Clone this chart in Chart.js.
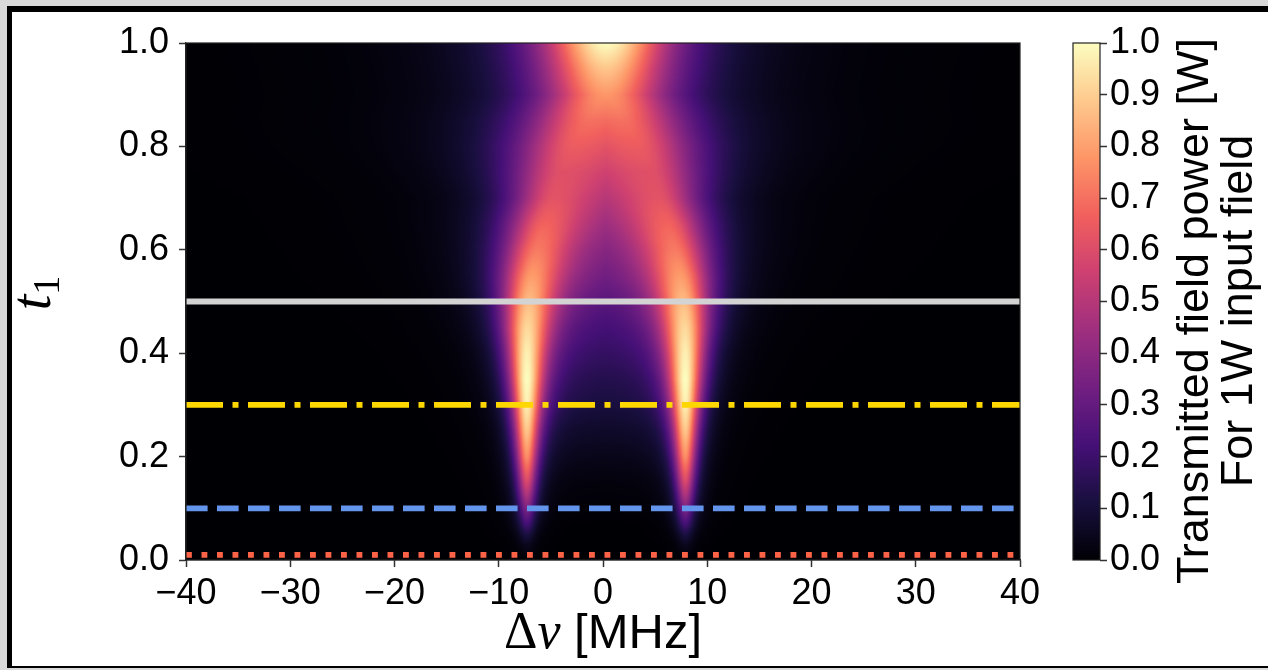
<!DOCTYPE html>
<html>
<head>
<meta charset="utf-8">
<script src="https://cdn.jsdelivr.net/npm/chart.js@4.4.1/dist/chart.umd.min.js"></script>
<style>
  html, body { margin: 0; padding: 0; width: 1268px; height: 670px; overflow: hidden; background: #d9d9d9; }
  #frame { position: absolute; left: 7px; top: 6px; width: 1300px; height: 654px; background: #fff;
           border-left: 5px solid #000; border-top: 6px solid #000; border-bottom: 2px solid #000; }
  #main { position: absolute; left: 0; top: 0; }
  #cbar { position: absolute; left: 1040px; top: 0; }
</style>
</head>
<body>
<div id="frame"></div>
<canvas id="main" width="1060" height="670"></canvas>
<canvas id="cbar" width="228" height="670"></canvas>
<script>
/* values */
const nuRange = [-40, 40];          // MHz
const t1Range = [0, 1];
const lineCentre = 0.3;             // MHz, axis of the pattern

// one entry per t1 row
const t1Rows      = [0.00, 0.03, 0.05, 0.07, 0.10, 0.15, 0.20, 0.25, 0.30, 0.35, 0.40, 0.45, 0.50, 0.55, 0.60, 0.65, 0.70, 0.75, 0.80, 0.85, 0.90, 0.95, 1.00];
const peakSplit   = [7.6, 7.6, 7.6, 7.6, 7.6, 7.6, 7.6, 7.6, 7.6, 7.6, 7.6, 7.55, 7.4, 7.1, 6.6, 5.9, 5.0, 4.2, 3.0, 1.5, 0, 0, 0];
const peakHeight  = [0.0, 0.05, 0.12, 0.22, 0.36, 0.58, 0.76, 0.88, 0.97, 1.0, 0.97, 0.92, 0.86, 0.79, 0.72, 0.67, 0.62, 0.61, 0.65, 0.70, 0.78, 0.88, 1.0];
const peakWidth   = [1.1, 1.1, 1.15, 1.2, 1.25, 1.35, 1.5, 1.7, 1.95, 2.25, 2.6, 3.1, 3.6, 4.2, 4.8, 5.4, 6.0, 7.2, 8.3, 8.9, 8.9, 8.8, 8.7];
const centreLevel = [0, 0, 0, 0, 0.005, 0.015, 0.04, 0.07, 0.11, 0.14, 0.18, 0.22, 0.27, 0.33, 0.38, 0.44, 0.50, 0.56, 0.62, 0.69, 0.78, 0.88, 1.0];

// horizontal cuts
const cutLevels = [0.5, 0.3, 0.1, 0.01];
const cutColors = ['#d3d3d3', '#ffd700', '#6495ed', '#ff6347'];
const cutDashes = [[], [37, 9.5, 6, 9.5], [21.6, 9.4], [5.85, 9.65]];

// magma colour map
const magmaStops = ['#000004', '#180f3e', '#451077', '#721f81', '#9f2f7f', '#cd4071', '#f1605d', '#fd9567', '#fec98d', '#fcfdbf'];

const sans = "'Liberation Sans', Arial, Helvetica, sans-serif";
const serif = "'Liberation Serif', 'DejaVu Serif', serif";
Chart.defaults.font.family = sans;
Chart.defaults.color = '#000';

const magmaRGB = magmaStops.map(h => [1, 3, 5].map(i => parseInt(h.slice(i, i + 2), 16)));

function colour(v) {
  v = Math.max(0, Math.min(1, v));
  const p = v * (magmaRGB.length - 1);
  const i = Math.min(magmaRGB.length - 2, Math.floor(p));
  const f = p - i;
  return magmaRGB[i].map((c, k) => c + (magmaRGB[i + 1][k] - c) * f);
}

function rowAt(t) {
  let k = 0;
  while (k < t1Rows.length - 2 && t > t1Rows[k + 1]) k++;
  const f = Math.max(0, Math.min(1, (t - t1Rows[k]) / (t1Rows[k + 1] - t1Rows[k])));
  const mix = a => a[k] + (a[k + 1] - a[k]) * f;
  return { split: mix(peakSplit), height: mix(peakHeight), width: mix(peakWidth), centre: mix(centreLevel) };
}

function shape(x, w) {
  const u = x / w;
  return 1 / ((1 + u * u) * (1 + u * u));
}

function power(nu, r) {
  const d = Math.abs(nu - lineCentre);
  if (d >= r.split) return r.height * shape(d - r.split, r.width);
  const edge = shape(r.split, r.width);
  const inner = (shape(r.split - d, r.width) - edge) / (1 - edge);
  return r.centre + (r.height - r.centre) * inner;
}

function buildImage(a, x, y) {
  const w = Math.round(a.right - a.left), h = Math.round(a.bottom - a.top);
  const c = document.createElement('canvas');
  c.width = w; c.height = h;
  const g = c.getContext('2d');
  const img = g.createImageData(w, h);
  const nus = [];
  for (let i = 0; i < w; i++) nus.push(x.getValueForPixel(a.left + i + 0.5));
  for (let j = 0; j < h; j++) {
    const r = rowAt(y.getValueForPixel(a.top + j + 0.5));
    for (let i = 0; i < w; i++) {
      const rgb = colour(power(nus[i], r));
      const o = (j * w + i) * 4;
      img.data[o] = rgb[0]; img.data[o + 1] = rgb[1]; img.data[o + 2] = rgb[2]; img.data[o + 3] = 255;
    }
  }
  g.putImageData(img, 0, 0);
  return c;
}

// draw a row of text pieces with different fonts, centred on 0
function drawPieces(ctx, pieces) {
  let total = 0;
  pieces.forEach(p => { ctx.font = p.font; p.w = ctx.measureText(p.t).width; total += p.w; });
  let cx = -total / 2;
  pieces.forEach(p => { ctx.font = p.font; ctx.fillText(p.t, cx, p.dy || 0); cx += p.w; });
}

const heatmap = {
  id: 'heatmap',
  beforeDatasetsDraw(chart) {
    const { ctx, chartArea: a, scales: { x, y } } = chart;
    if (!chart.$img) chart.$img = buildImage(a, x, y);
    ctx.drawImage(chart.$img, a.left, a.top, a.right - a.left, a.bottom - a.top);
  },
  afterDatasetsDraw(chart) {
    const { ctx, chartArea: a } = chart;
    ctx.save();
    ctx.strokeStyle = '#222';
    ctx.lineWidth = 1.2;
    ctx.strokeRect(a.left, a.top, a.right - a.left, a.bottom - a.top);
    ctx.restore();
  },
  afterDraw(chart) {
    const { ctx, scales: { x } } = chart;
    ctx.save();
    ctx.fillStyle = '#000';
    ctx.textBaseline = 'alphabetic';
    // x title
    ctx.translate(x.getPixelForValue(0), 648);
    drawPieces(ctx, [
      { t: 'Δ', font: `52px ${serif}` },
      { t: 'ν', font: `italic 52px ${serif}` },
      { t: ' [MHz]', font: `49px ${sans}` }
    ]);
    ctx.restore();
    // y title
    ctx.save();
    ctx.fillStyle = '#000';
    ctx.translate(50, 293);
    ctx.rotate(-Math.PI / 2);
    drawPieces(ctx, [
      { t: 't', font: `italic 56px ${serif}` },
      { t: '1', font: `38px ${serif}`, dy: 9 }
    ]);
    ctx.restore();
  }
};

const fmtX = v => (v < 0 ? '\u2212' + Math.abs(v) : String(v));

new Chart(document.getElementById('main'), {
  type: 'line',
  data: {
    datasets: cutLevels.map((lvl, i) => ({
      data: [{ x: nuRange[0], y: lvl }, { x: nuRange[1], y: lvl }],
      borderColor: cutColors[i],
      borderDash: cutDashes[i],
      borderWidth: 5.85,
      borderCapStyle: 'butt',
      pointRadius: 0,
      fill: false
    }))
  },
  options: {
    responsive: false,
    animation: false,
    layout: { padding: { left: 0, top: 43, right: 40, bottom: 0 } },
    plugins: { legend: { display: false }, tooltip: { enabled: false } },
    scales: {
      x: {
        type: 'linear', min: nuRange[0], max: nuRange[1],
        ticks: { stepSize: 10, callback: fmtX, font: { size: 36 }, padding: 5, maxRotation: 0 },
        grid: { drawOnChartArea: false, tickLength: 7, tickWidth: 1.5, tickColor: '#333' },
        border: { color: '#222', width: 1.2 },
        afterFit: s => { s.height = 110; }
      },
      y: {
        type: 'linear', min: t1Range[0], max: t1Range[1],
        ticks: { stepSize: 0.2, callback: v => v.toFixed(1), font: { size: 36 }, padding: 10 },
        grid: { drawOnChartArea: false, tickLength: 7, tickWidth: 1.5, tickColor: '#333' },
        border: { color: '#222', width: 1.2 },
        afterFit: s => { s.width = 186; }
      }
    }
  },
  plugins: [heatmap]
});

const colourBar = {
  id: 'colourBar',
  beforeDatasetsDraw(chart) {
    const { ctx, chartArea: a, scales: { y } } = chart;
    const grad = ctx.createLinearGradient(0, y.getPixelForValue(0), 0, y.getPixelForValue(1));
    magmaStops.forEach((c, i) => grad.addColorStop(i / (magmaStops.length - 1), c));
    ctx.save();
    ctx.fillStyle = grad;
    ctx.fillRect(a.left, a.top, a.right - a.left, a.bottom - a.top);
    ctx.strokeStyle = '#222';
    ctx.lineWidth = 1.2;
    ctx.strokeRect(a.left, a.top, a.right - a.left, a.bottom - a.top);
    ctx.restore();
  },
  afterDraw(chart) {
    const { ctx } = chart;
    ctx.save();
    ctx.fillStyle = '#000';
    ctx.textAlign = 'center';
    ctx.textBaseline = 'alphabetic';
    ctx.font = `45px ${sans}`;
    [['Transmitted field power [W]', 168], ['For 1W input field', 212]].forEach(([txt, bx]) => {
      ctx.save();
      ctx.translate(bx, 311);
      ctx.rotate(-Math.PI / 2);
      ctx.fillText(txt, 0, 0);
      ctx.restore();
    });
    ctx.restore();
  }
};

new Chart(document.getElementById('cbar'), {
  type: 'scatter',
  data: { datasets: [] },
  options: {
    responsive: false,
    animation: false,
    layout: { padding: { left: 33, top: 43, right: 0, bottom: 110 } },
    plugins: { legend: { display: false }, tooltip: { enabled: false } },
    scales: {
      x: { display: false, min: 0, max: 1 },
      y: {
        position: 'right', min: 0, max: 1,
        ticks: { stepSize: 0.1, callback: v => v.toFixed(1), font: { size: 36 }, padding: 3 },
        grid: { drawOnChartArea: false, tickLength: 7, tickWidth: 1.5, tickColor: '#333' },
        border: { display: false },
        afterFit: s => { s.width = 168; }
      }
    }
  },
  plugins: [colourBar]
});
</script>
</body>
</html>
